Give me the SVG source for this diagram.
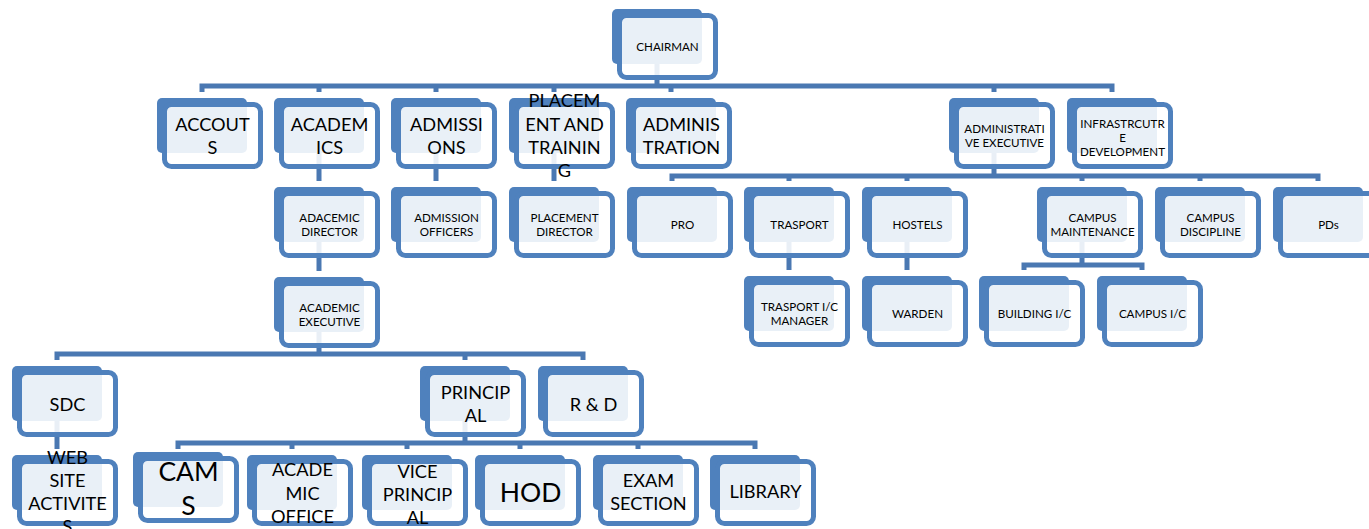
<svg xmlns="http://www.w3.org/2000/svg" width="1369" height="529" viewBox="0 0 1369 529">
<style>
.bk{fill:#4F81BD}
.fr{fill:#fff;fill-opacity:.88;stroke:#4F81BD;stroke-width:5}
.cn{fill:none;stroke:#4A78B2;stroke-width:5}
text{font-family:Lato,"Liberation Sans",sans-serif;fill:#000;text-anchor:middle}
.s{font-size:11.6px}
.l{font-size:18.2px}
.xl{font-size:26.5px}
</style>
<defs>
<g id="box">
<rect class="bk" x="0" y="0" width="90" height="55" rx="5"/>
<rect class="fr" x="7.5" y="6.5" width="96" height="62" rx="7"/>
</g>
</defs>
<g id="connectors">
<path class="cn" d="M657,63V86M202,92V86H1112V92M319,86V92M436,86V92M554,86V92M671,86V92M994,86V92"/>
<path class="cn" d="M319,153V181M436,153V181M554,153V181"/>
<path class="cn" d="M994,153V176M672,181V176H1318V181M789,176V181M907,176V181M1082,176V181M1200,176V181"/>
<path class="cn" d="M789,242V270M907,242V270M1082,242V265M1024,270V265H1142V270"/>
<path class="cn" d="M319,242V271"/>
<path class="cn" d="M319,332V354M57,360V354H583V360M465,354V360"/>
<path class="cn" d="M57,421V449"/>
<path class="cn" d="M465,421V443M178,449V443H755V449M292,443V449M407,443V449M520,443V449M638,443V449"/>
</g>
<g id="chairman" transform="translate(612,9)"><use href="#box"/><text class="s" x="55.5" y="41.5">CHAIRMAN</text></g>
<g id="accouts" transform="translate(157,98)"><use href="#box"/><text class="l" x="55.5" y="33">ACCOUT</text><text class="l" x="55.5" y="56">S</text></g>
<g id="academics" transform="translate(274,98)"><use href="#box"/><text class="l" x="55.5" y="33">ACADEM</text><text class="l" x="55.5" y="56">ICS</text></g>
<g id="admissions" transform="translate(391,98)"><use href="#box"/><text class="l" x="55.5" y="33">ADMISSI</text><text class="l" x="55.5" y="56">ONS</text></g>
<g id="placement" transform="translate(509,98)"><use href="#box"/><text class="l" x="55.5" y="9">PLACEM</text><text class="l" x="55.5" y="32.5">ENT AND</text><text class="l" x="55.5" y="56">TRAININ</text><text class="l" x="55.5" y="79">G</text></g>
<g id="administration" transform="translate(626,98)"><use href="#box"/><text class="l" x="55.5" y="33">ADMINIS</text><text class="l" x="55.5" y="56">TRATION</text></g>
<g id="admin-exec" transform="translate(949,98)"><use href="#box"/><text class="s" x="55.5" y="35">ADMINISTRATI</text><text class="s" x="55.5" y="49">VE EXECUTIVE</text></g>
<g id="infra" transform="translate(1067,98)"><use href="#box"/><text class="s" x="55.5" y="29.5">INFRASTRCUTR</text><text class="s" x="55.5" y="43.5">E</text><text class="s" x="55.5" y="57.5">DEVELOPMENT</text></g>
<g id="academic-director" transform="translate(274,187)"><use href="#box"/><text class="s" x="55.5" y="35">ADACEMIC</text><text class="s" x="55.5" y="49">DIRECTOR</text></g>
<g id="admission-officers" transform="translate(391,187)"><use href="#box"/><text class="s" x="55.5" y="35">ADMISSION</text><text class="s" x="55.5" y="49">OFFICERS</text></g>
<g id="placement-director" transform="translate(509,187)"><use href="#box"/><text class="s" x="55.5" y="35">PLACEMENT</text><text class="s" x="55.5" y="49">DIRECTOR</text></g>
<g id="pro" transform="translate(627,187)"><use href="#box"/><text class="s" x="55.5" y="42">PRO</text></g>
<g id="trasport" transform="translate(744,187)"><use href="#box"/><text class="s" x="55.5" y="42">TRASPORT</text></g>
<g id="hostels" transform="translate(862,187)"><use href="#box"/><text class="s" x="55.5" y="42">HOSTELS</text></g>
<g id="campus-maintenance" transform="translate(1037,187)"><use href="#box"/><text class="s" x="55.5" y="35">CAMPUS</text><text class="s" x="55.5" y="49">MAINTENANCE</text></g>
<g id="campus-discipline" transform="translate(1155,187)"><use href="#box"/><text class="s" x="55.5" y="35">CAMPUS</text><text class="s" x="55.5" y="49">DISCIPLINE</text></g>
<g id="pds" transform="translate(1273,187)"><use href="#box"/><text class="s" x="55.5" y="42">PDs</text></g>
<g id="academic-executive" transform="translate(274,277)"><use href="#box"/><text class="s" x="55.5" y="35">ACADEMIC</text><text class="s" x="55.5" y="49">EXECUTIVE</text></g>
<g id="trasport-ic" transform="translate(744,276)"><use href="#box"/><text class="s" x="55.5" y="35">TRASPORT I/C</text><text class="s" x="55.5" y="49">MANAGER</text></g>
<g id="warden" transform="translate(862,276)"><use href="#box"/><text class="s" x="55.5" y="42">WARDEN</text></g>
<g id="building-ic" transform="translate(979,276)"><use href="#box"/><text class="s" x="55.5" y="42">BUILDING I/C</text></g>
<g id="campus-ic" transform="translate(1097,276)"><use href="#box"/><text class="s" x="55.5" y="42">CAMPUS I/C</text></g>
<g id="sdc" transform="translate(12,366)"><use href="#box"/><text class="l" x="55.5" y="44.5">SDC</text></g>
<g id="principal" transform="translate(420,366)"><use href="#box"/><text class="l" x="55.5" y="33">PRINCIP</text><text class="l" x="55.5" y="56">AL</text></g>
<g id="rnd" transform="translate(538,366)"><use href="#box"/><text class="l" x="55.5" y="44.5">R &amp; D</text></g>
<g id="website" transform="translate(12,455)"><use href="#box"/><text class="l" x="55.5" y="9">WEB</text><text class="l" x="55.5" y="32">SITE</text><text class="l" x="55.5" y="55">ACTIVITE</text><text class="l" x="55.5" y="78">S</text></g>
<g id="cams" transform="translate(133,452)"><use href="#box"/><text class="xl" x="55.5" y="28.5">CAM</text><text class="xl" x="55.5" y="62.5">S</text></g>
<g id="academic-office" transform="translate(247,455)"><use href="#box"/><text class="l" x="55.5" y="21">ACADE</text><text class="l" x="55.5" y="44.5">MIC</text><text class="l" x="55.5" y="67.5">OFFICE</text></g>
<g id="vice-principal" transform="translate(362,455)"><use href="#box"/><text class="l" x="55.5" y="23">VICE</text><text class="l" x="55.5" y="46">PRINCIP</text><text class="l" x="55.5" y="69">AL</text></g>
<g id="hod" transform="translate(475,455)"><use href="#box"/><text class="xl" x="55.5" y="46.5">HOD</text></g>
<g id="exam-section" transform="translate(593,455)"><use href="#box"/><text class="l" x="55.5" y="32">EXAM</text><text class="l" x="55.5" y="55">SECTION</text></g>
<g id="library" transform="translate(710,455)"><use href="#box"/><text class="l" x="55.5" y="43">LIBRARY</text></g>
</svg>
